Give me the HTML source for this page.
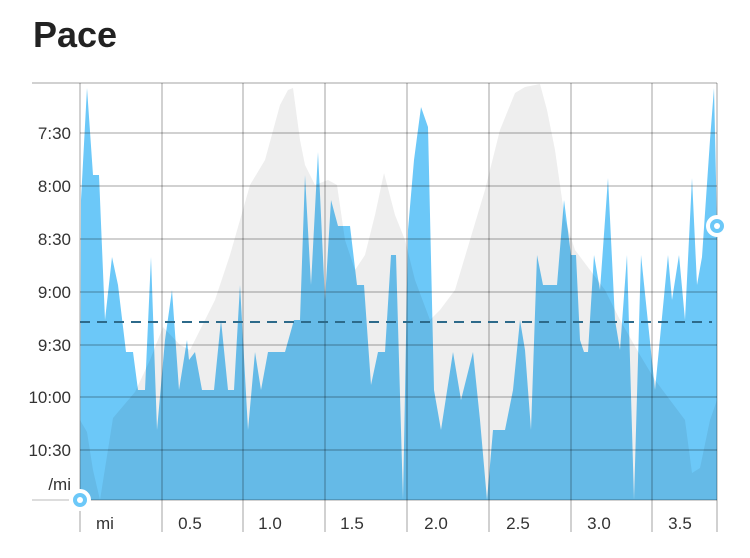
<!DOCTYPE html>
<html><head><style>
body{margin:0;background:#fff;}
svg{display:block;font-family:"Liberation Sans",sans-serif;}
</style></head><body>
<svg width="750" height="558" viewBox="0 0 750 558">
<text x="33" y="47" font-size="36" font-weight="bold" fill="#222">Pace</text>
<rect x="80" y="83" width="637" height="417" fill="#fff"/>
<polygon fill="#6cc8f8" points="80,500 81,200 87,88 93,175 99,175 105,320 112,257 118,285 126,352 133,352 138,390 145,390 151,257 157,430 165,340 172,290 179,390 187,340 189,360 195,352 202,390 214,390 221,320 228,390 234,390 240,285 248,430 255,352 261,390 268,352 285,352 294,320 300,320 305,175 311,285 318,152 325,300 331,200 338,226 350,226 357,285 364,285 371,385 378,352 385,352 391,255 396,255 403,500 408,230 414,160 421,107 428,127 434,390 441,430 453,352 461,400 473,352 480,420 487,500 493,430 505,430 513,390 520,320 525,350 531,430 537,255 543,285 557,285 564,200 571,255 576,255 580,340 584,352 588,352 594,255 600,290 608,178 615,320 620,350 627,255 634,500 641,255 655,390 668,255 672,300 679,255 685,320 692,178 697,285 702,257 710,140 714,88 717,225 717,500"/>
<polygon fill="#eeeeee" style="mix-blend-mode:multiply" points="80,500 80,420 87,432 93,470 100,500 113,418 135,392 150,360 163,327 180,345 190,350 200,330 215,300 230,255 240,220 250,185 265,160 280,105 288,90 293,88 300,140 305,165 315,185 328,180 337,185 345,240 355,270 365,255 375,215 384,173 395,215 405,240 415,280 430,320 440,310 455,290 470,240 485,190 500,130 515,93 525,87 540,84 547,110 555,150 565,220 575,250 590,270 605,290 620,320 640,355 655,380 670,400 685,420 692,473 700,468 710,420 717,400 717,500"/>
<g stroke="#000" stroke-opacity="0.18" stroke-width="2">
<line x1="32" y1="83" x2="717" y2="83"/>
<line x1="80" y1="133" x2="717" y2="133"/>
<line x1="80" y1="186" x2="717" y2="186"/>
<line x1="80" y1="239" x2="717" y2="239"/>
<line x1="80" y1="292" x2="717" y2="292"/>
<line x1="80" y1="345" x2="717" y2="345"/>
<line x1="80" y1="397" x2="717" y2="397"/>
<line x1="80" y1="450" x2="717" y2="450"/>
<line x1="80" y1="500" x2="717" y2="500"/>
<line x1="80" y1="83" x2="80" y2="532"/>
<line x1="162" y1="83" x2="162" y2="532"/>
<line x1="243" y1="83" x2="243" y2="532"/>
<line x1="325" y1="83" x2="325" y2="532"/>
<line x1="407" y1="83" x2="407" y2="532"/>
<line x1="489" y1="83" x2="489" y2="532"/>
<line x1="571" y1="83" x2="571" y2="532"/>
<line x1="652" y1="83" x2="652" y2="532"/>
<line x1="717" y1="83" x2="717" y2="532"/>
</g>
<line x1="32" y1="500" x2="80" y2="500" stroke="#ddd" stroke-width="2"/>
<line x1="80" y1="322" x2="712" y2="322" stroke="#2d6a8a" stroke-width="2" stroke-dasharray="10,7"/>
<g font-size="17" fill="#333" text-anchor="end">
<text x="71" y="139">7:30</text>
<text x="71" y="192">8:00</text>
<text x="71" y="245">8:30</text>
<text x="71" y="298">9:00</text>
<text x="71" y="351">9:30</text>
<text x="71" y="403">10:00</text>
<text x="71" y="456">10:30</text>
<text x="71" y="490">/mi</text>
</g>
<g font-size="17" fill="#333" text-anchor="middle">
<text x="105" y="529">mi</text>
<text x="190" y="529">0.5</text>
<text x="270" y="529">1.0</text>
<text x="352" y="529">1.5</text>
<text x="436" y="529">2.0</text>
<text x="518" y="529">2.5</text>
<text x="599" y="529">3.0</text>
<text x="680" y="529">3.5</text>
</g>
<circle cx="80" cy="500" r="9" fill="#6cc8f8" stroke="#fff" stroke-width="4"/>
<circle cx="80" cy="500" r="3" fill="#fff"/>
<circle cx="717" cy="226" r="9" fill="#6cc8f8" stroke="#fff" stroke-width="4"/>
<circle cx="717" cy="226" r="3" fill="#fff"/>
</svg>
</body></html>
